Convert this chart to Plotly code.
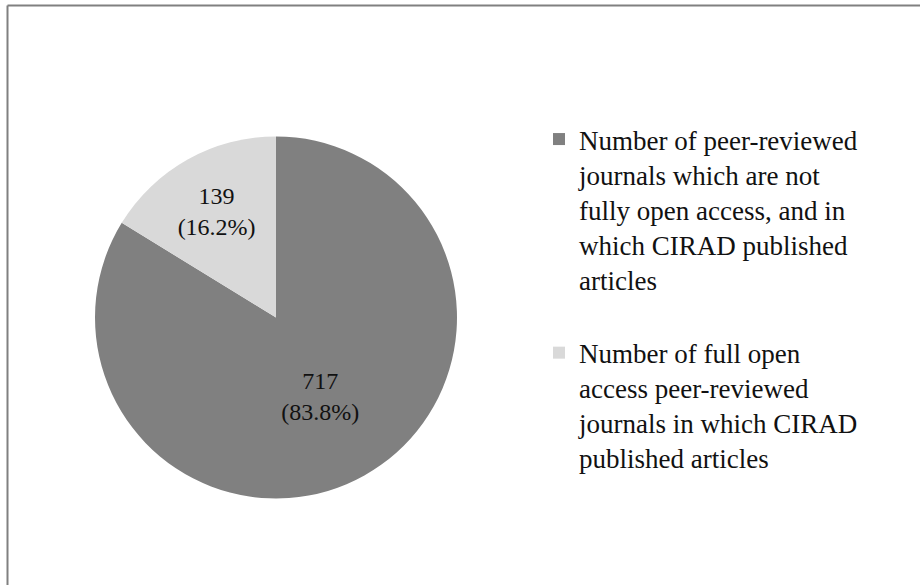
import plotly.graph_objects as go

labels = [
    "Number of peer-reviewed<br>journals which are not<br>fully open access, and in<br>which CIRAD published<br>articles<br> ",
    "Number of full open<br>access peer-reviewed<br>journals in which CIRAD<br>published articles",
]
values = [717, 139]
colors = ["#808080", "#d9d9d9"]

W, H = 920, 585
fig = go.Figure()
fig.add_trace(go.Pie(
    labels=labels,
    values=values,
    marker=dict(colors=colors, line=dict(width=0)),
    sort=False,
    direction="clockwise",
    rotation=0,
    texttemplate="%{value}<br>(%{percent:.1%})",
    textposition="inside",
    insidetextorientation="horizontal",
    textfont=dict(family="Liberation Serif", size=24, color="#111111"),
    domain=dict(x=[95 / W, 457 / W], y=[1 - 500 / H, 1 - 135 / H]),
    hoverinfo="skip",
))

fig.update_layout(
    width=W, height=H,
    margin=dict(l=0, r=0, t=0, b=0),
    paper_bgcolor="white",
    plot_bgcolor="white",
    showlegend=True,
    legend=dict(
        x=539 / W, y=1 - 115 / H, xanchor="left", yanchor="top",
        font=dict(family="Liberation Serif", size=27, color="#111111"),
        valign="top",
        itemwidth=30,
        bgcolor="rgba(0,0,0,0)",
    ),
    shapes=[
        dict(type="line", xref="paper", yref="paper",
             x0=7.5 / W, x1=1.01, y0=1 - 5.5 / H, y1=1 - 5.5 / H,
             line=dict(color="#808080", width=2)),
        dict(type="line", xref="paper", yref="paper",
             x0=7.5 / W, x1=7.5 / W, y0=-0.01, y1=1 - 5.5 / H,
             line=dict(color="#808080", width=2)),
    ],
)

fig.write_html("out.html")
